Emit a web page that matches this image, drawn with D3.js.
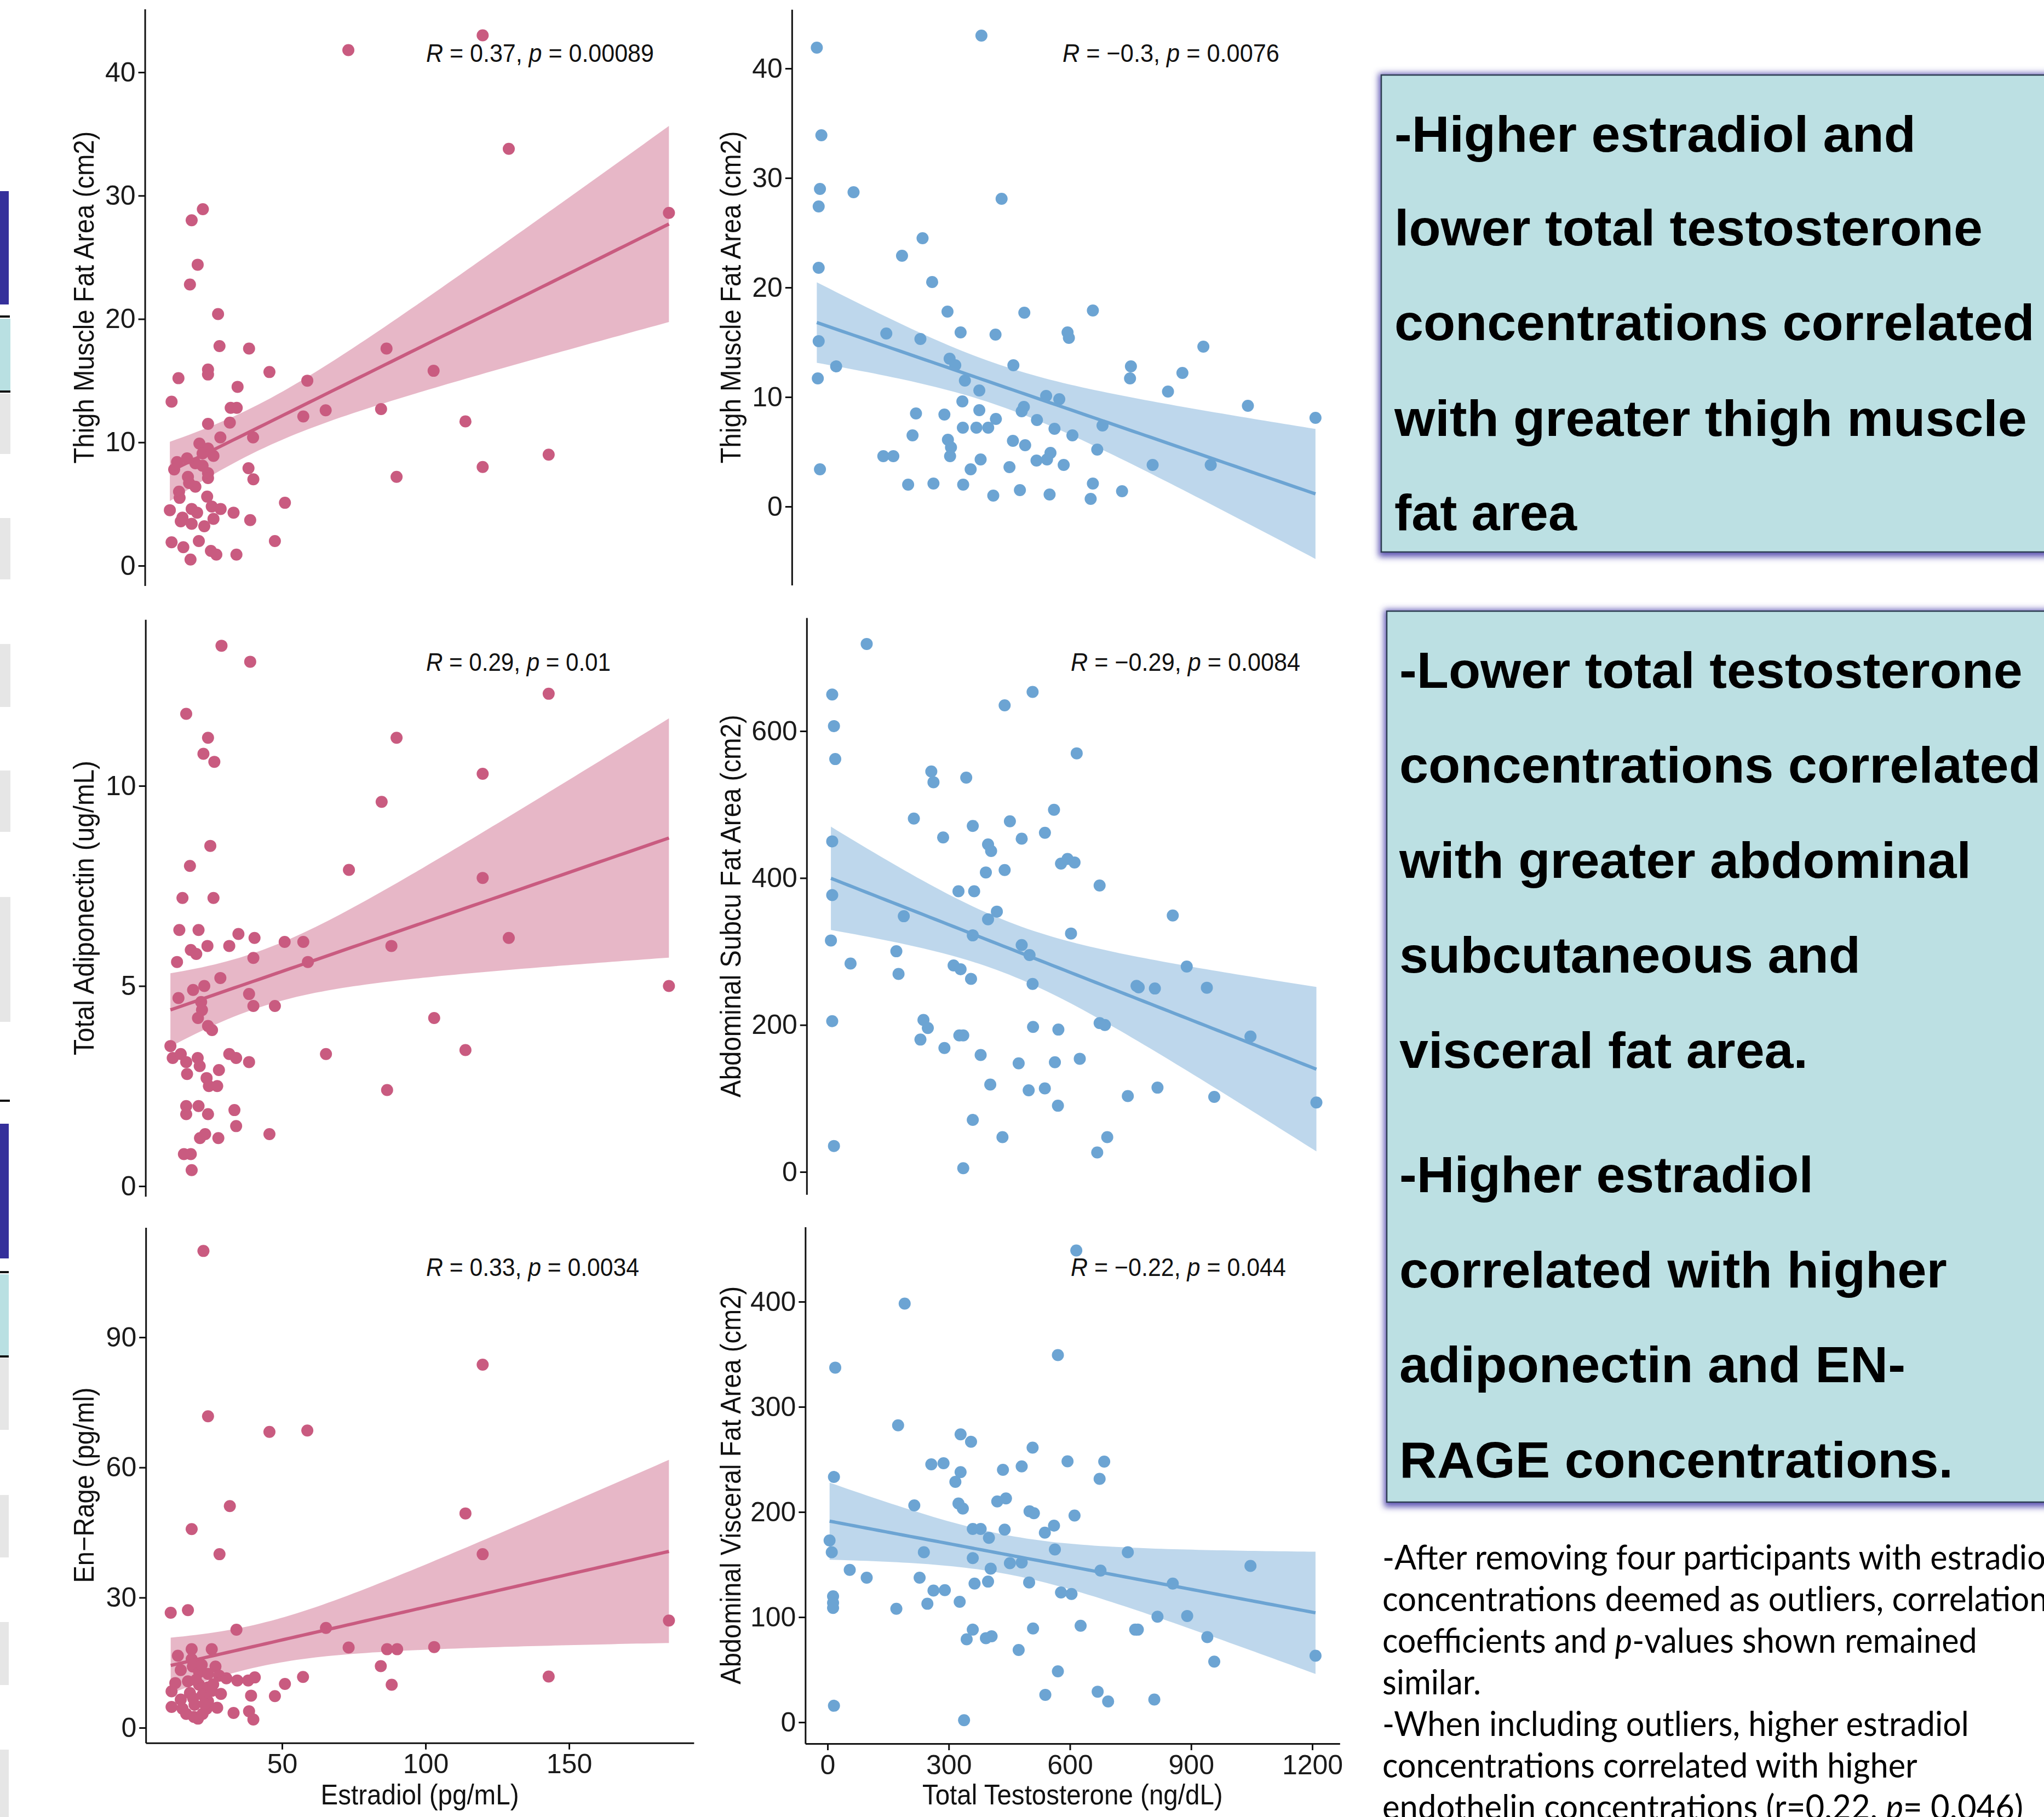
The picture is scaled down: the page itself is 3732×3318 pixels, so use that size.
<!DOCTYPE html>
<html>
<head>
<meta charset="utf-8">
<script src="https://cdn.jsdelivr.net/npm/d3@7"></script>
<style>
  body { margin: 0; background: #fff; }
  svg text { font-family: "Liberation Sans", Arial, sans-serif; }
</style>
</head>
<body>
<svg id="fig" width="3732" height="3318"></svg>
<script>
// ---- data: [x, y] per participant ----
var thighE2 = [[119.9,43.0],[73.1,41.8],[129.0,33.8],[184.8,28.6],[22.4,28.9],[18.5,28.0],[20.6,24.4],[17.9,22.8],[27.7,20.4],[28.2,17.8],[38.5,17.6],[86.4,17.6],[13.9,15.2],[24.2,15.9],[24.2,15.5],[45.6,15.7],[58.8,15.0],[102.8,15.8],[34.5,14.5],[11.5,13.3],[32.1,12.8],[34.2,12.8],[57.4,12.1],[65.2,12.6],[84.5,12.7],[113.9,11.7],[24.2,11.5],[31.8,11.6],[28.5,10.4],[39.9,10.4],[21.2,9.9],[24.2,9.5],[26.1,8.9],[22.3,9.1],[13.4,8.4],[16.9,8.7],[19.8,8.3],[22.3,8.1],[24.2,7.5],[12.4,7.8],[38.3,7.9],[40.0,7.0],[17.2,7.2],[24.2,7.1],[17.6,6.7],[19.8,6.4],[14.1,6.0],[14.3,5.5],[23.9,5.6],[51.0,5.1],[10.9,4.5],[18.5,4.6],[20.4,4.3],[25.5,4.8],[28.6,4.6],[33.1,4.3],[15.3,3.9],[14.7,3.6],[18.5,3.4],[22.9,3.2],[26.1,3.8],[38.9,3.7],[11.5,1.9],[15.6,1.5],[21.0,2.0],[18.1,0.5],[25.2,1.2],[27.1,0.9],[34.1,0.9],[47.5,2.0],[142.9,9.0],[119.9,8.0],[89.9,7.2]];

var thighTT = [[407,43.0],[11,41.9],[22,33.9],[18.6,29.0],[15.5,27.4],[99.4,28.7],[455.5,28.1],[15.5,21.8],[265.4,24.5],[216,22.9],[288.5,20.5],[15.5,15.1],[13.4,11.7],[57.5,12.8],[178.2,15.8],[260.2,15.3],[325.4,17.8],[356.9,15.9],[440.9,15.7],[510.2,17.7],[675.1,17.9],[614.2,15.9],[617.4,15.4],[330.5,13.5],[344.1,12.9],[483.9,12.9],[367.2,11.5],[401.9,10.6],[361.2,9.6],[562.7,10.1],[594.3,9.8],[766.6,12.8],[764.5,11.7],[890.5,12.2],[940.9,14.6],[855.8,10.5],[1048,9.2],[1210.6,8.1],[249.6,8.5],[317.9,8.4],[401.9,8.8],[441.8,8.0],[503.9,8.7],[509.1,9.1],[540.6,7.9],[241.3,6.5],[362.3,7.2],[394.9,7.2],[423.3,7.2],[582.8,7.1],[698.3,7.4],[625.9,6.5],[326.4,6.1],[333.8,5.4],[482.8,6.0],[512.2,5.6],[685.6,5.2],[171,4.6],[195.1,4.6],[331.6,4.6],[405.1,4.3],[539.5,4.2],[573.1,4.9],[564.8,4.3],[381.1,3.4],[474.5,3.6],[604.9,3.8],[818.9,3.8],[958.6,3.8],[18.6,3.4],[230.7,2.0],[291.6,2.1],[363.1,2.0],[675.1,2.1],[435.5,1.0],[499.6,1.5],[571,1.1],[669.8,0.7],[745.3,1.4]];

var adipoE2 = [[28.9,13.5],[38.9,13.1],[142.9,12.3],[16.6,11.8],[24.2,11.2],[89.9,11.2],[22.6,10.8],[26.4,10.6],[119.9,10.3],[84.7,9.6],[25.0,8.5],[17.9,8.0],[73.3,7.9],[119.9,7.7],[15.3,7.2],[26.1,7.2],[14.2,6.4],[20.9,6.4],[34.8,6.3],[40.4,6.2],[18.2,5.9],[20.1,5.8],[24.0,6.0],[31.6,6.0],[50.9,6.1],[57.4,6.1],[88.1,6.0],[129.0,6.2],[40.0,5.7],[59.0,5.6],[13.4,5.6],[28.5,5.2],[19.0,4.9],[22.9,5.0],[13.9,4.7],[21.8,4.6],[38.5,4.8],[40.0,4.5],[47.5,4.5],[184.8,5.0],[22.1,4.4],[20.7,4.2],[24.2,4.0],[25.6,3.9],[103.0,4.2],[65.3,3.3],[113.9,3.4],[11.1,3.5],[11.9,3.2],[14.7,3.3],[16.6,3.1],[20.6,3.2],[21.3,3.0],[31.6,3.3],[34.0,3.2],[38.5,3.1],[16.9,2.8],[23.7,2.7],[28.0,2.9],[24.5,2.5],[27.4,2.5],[86.6,2.4],[16.6,2.0],[20.9,2.0],[16.6,1.8],[24.2,1.8],[33.4,1.9],[34.0,1.5],[45.6,1.3],[21.4,1.2],[23.2,1.3],[27.8,1.2],[15.8,0.8],[18.2,0.8],[18.5,0.4]];

var subcuTT = [[96.9,718.6],[11.5,649.7],[507.6,653.3],[15.8,606.8],[438.4,635.1],[19.0,561.9],[616.8,569.7],[256.8,545.0],[262.2,530.4],[343.3,536.7],[213.6,480.9],[451.4,477.2],[560.6,492.9],[359.5,470.9],[538.1,461.5],[286.1,455.2],[480.6,453.6],[11.5,449.9],[397.3,445.7],[404.9,436.8],[577.9,419.6],[594.1,425.9],[611.4,421.2],[391.9,407.6],[438.4,410.8],[673.5,389.8],[11.5,376.7],[324.1,382.0],[362.9,382.0],[419.1,354.3],[397.3,343.8],[188.7,348.0],[854.6,349.0],[359.5,321.9],[602.7,324.5],[8.3,315.0],[480.6,308.7],[500.0,295.1],[170.3,300.3],[56.9,283.6],[312.0,281.0],[329.3,275.8],[889.2,279.5],[175.7,269.5],[355.2,262.7],[507.6,255.9],[764.9,253.3],[770.3,251.2],[810.3,249.6],[939.0,250.7],[11.5,205.2],[237.4,206.8],[248.2,195.8],[673.5,202.6],[686.5,200.0],[326.2,185.8],[335.9,185.8],[508.7,197.4],[571.4,193.7],[229.9,180.1],[1047,184.3],[289.3,168.6],[379.0,159.2],[473.1,147.7],[562.8,149.3],[624.4,154.0],[402.8,118.9],[497.9,111.0],[537.9,113.6],[743.3,103.2],[816.8,114.7],[957.3,102.1],[570.3,90.1],[1210.2,94.4],[359.5,70.8],[433.0,47.3],[692.4,47.3],[667.6,26.4],[15.8,35.3],[335.9,5.0]];

var enrageE2 = [[22.6,109.9],[119.9,83.7],[24.2,71.8],[45.6,68.2],[58.8,68.5],[31.8,51.1],[113.9,49.4],[18.5,45.8],[28.2,40.0],[119.9,40.0],[11.2,26.5],[17.2,27.1],[34.1,22.6],[65.3,23.0],[184.8,24.7],[73.2,18.5],[86.6,18.1],[90.1,18.1],[103.0,18.6],[84.4,14.2],[88.2,9.9],[142.9,11.8],[57.3,11.7],[51.0,10.1],[47.5,7.3],[13.7,16.6],[18.5,18.1],[25.5,18.1],[18.5,15.8],[26.8,14.1],[18.9,14.1],[14.7,13.3],[21.1,12.8],[24.2,12.4],[28.1,12.0],[30.6,11.4],[34.4,10.9],[38.2,10.9],[40.5,11.6],[12.8,10.3],[17.2,10.7],[21.1,9.9],[24.2,9.3],[11.5,8.4],[17.9,8.0],[22.3,7.6],[28.7,7.8],[39.2,7.4],[14.7,6.5],[24.2,6.1],[11.5,4.8],[15.3,4.4],[19.5,5.3],[23.7,4.4],[27.4,4.6],[16.6,3.2],[20.7,2.1],[33.1,3.4],[38.5,3.8],[40.0,1.9],[19.3,2.5],[22.3,3.2],[20.0,11.0],[22.0,14.5],[25.5,8.5],[19.0,6.8],[26.0,10.0],[23.0,5.5]];

var visceralTT = [[615.8,448.7],[190.9,398.2],[570.2,349.2],[19.0,337.3],[174.6,282.4],[329.3,273.8],[355.2,266.8],[507.6,261.2],[256.8,245.3],[287.1,246.4],[594.1,248.2],[684.9,247.9],[329.3,237.9],[434.2,240.1],[480.6,243.4],[316.4,228.6],[673.5,231.5],[15.8,233.3],[420.1,210.0],[441.7,212.9],[324.1,208.1],[334.9,203.3],[214.7,206.3],[500.0,200.7],[510.8,198.8],[611.4,196.6],[5.0,172.9],[10.4,161.7],[359.5,183.9],[379.0,183.9],[399.5,175.4],[438.4,183.2],[537.9,180.3],[560.6,187.0],[238.4,161.7],[562.8,164.3],[743.3,161.7],[359.5,156.1],[451.4,151.3],[480.6,152.0],[403.9,146.1],[675.7,144.3],[1047,148.7],[54.9,144.9],[96.9,137.5],[227.9,137.5],[363.9,131.9],[397.3,133.8],[499.0,133.0],[854.6,131.9],[262.2,125.3],[290.3,125.7],[577.9,123.4],[603.9,122.0],[13.6,119.8],[13.6,113.5],[13.6,108.7],[247.1,112.7],[327.1,114.6],[170.3,107.9],[816.8,100.4],[890.3,101.1],[626.5,91.8],[359.5,88.1],[508.7,89.2],[761.6,88.1],[768.1,88.1],[344.4,78.9],[392.0,80.0],[406.1,81.8],[940.1,81.0],[473.1,68.8],[1208,63.3],[957.3,57.7],[570.2,48.4],[539.1,26.1],[668.7,29.1],[694.6,19.8],[808.9,21.6],[15.8,15.7],[337.9,2.0]];

var statR = ['0.37', '\u22120.3', '0.29', '\u22120.29', '0.33', '\u22120.22'];
var statP = ['0.00089', '0.0076', '0.01', '0.0084', '0.0034', '0.044'];
var yTitles = ['Thigh Muscle Fat Area (cm2)', 'Thigh Muscle Fat Area (cm2)', 'Total Adiponectin (ug/mL)',
               'Abdominal Subcu Fat Area (cm2)', 'En\u2212Rage (pg/ml)', 'Abdominal Visceral Fat Area (cm2)'];
var yTickVals = [[0,10,20,30,40], [0,10,20,30,40], [0,5,10], [0,200,400,600], [0,30,60,90], [0,100,200,300,400]];
var e2Ticks = [50, 100, 150];
var ttTicks = [0, 300, 600, 900, 1200];
var xTitles = ['Estradiol (pg/mL)', 'Total Testosterone (ng/dL)'];

var box1Lines = ['-Higher estradiol and', 'lower total testosterone', 'concentrations correlated',
                 'with greater thigh muscle', 'fat area'];
var box2Lines = ['-Lower total testosterone', 'concentrations correlated', 'with greater abdominal',
                 'subcutaneous and', 'visceral fat area.', '-Higher estradiol', 'correlated with higher',
                 'adiponectin and EN-', 'RAGE concentrations.'];
var noteLines = [['-After removing four participants with estradiol'],
                 ['concentrations deemed as outliers, correlation'],
                 ['coefficients and ', {i:'p'}, '-values shown remained'],
                 ['similar.'],
                 ['-When including outliers, higher estradiol'],
                 ['concentrations correlated with higher'],
                 ['endothelin concentrations (r=0.22,  ', {i:'p'}, '= 0.046)']];

// ---- layout ----
var pink = '#c95b80', blue = '#6ca4d3';
var panels = [
  {pts: thighE2,    col: pink, xCal: [0,253,50,515],  yCal: [0,1033,40,132],   titleX: 153,  titleW: 607, annX: 778,  annY: 97,   annW: 416},
  {pts: thighTT,    col: blue, xCal: [0,1483,300,1710.7], yCal: [0,925,40,125], titleX: 1334, titleW: 607, annX: 1940, annY: 97,   annW: 396},
  {pts: adipoE2,    col: pink, xCal: [0,253,50,515],  yCal: [0,2166,10,1435],  titleX: 153,  titleW: 538, annX: 778,  annY: 1209, annW: 337},
  {pts: subcuTT,    col: blue, xCal: [0,1511,300,1732.25], yCal: [0,2140,600,1335], titleX: 1334, titleW: 699, annX: 1955, annY: 1209, annW: 419},
  {pts: enrageE2,   col: pink, xCal: [0,253,50,515],  yCal: [0,3155,90,2442],  titleX: 153,  titleW: 357, annX: 778,  annY: 2314, annW: 389, xt: 0, xtW: 362},
  {pts: visceralTT, col: blue, xCal: [0,1511,300,1732.25], yCal: [0,3145,400,2377], titleX: 1334, titleW: 727, annX: 1955, annY: 2314, annW: 393, xt: 1, xtW: 549}
];

var svg = d3.select('#fig');
var defs = svg.append('defs');
defs.append('filter').attr('id', 'glow').attr('x', '-5%').attr('y', '-5%').attr('width', '110%').attr('height', '110%')
  .append('feGaussianBlur').attr('stdDeviation', 6);

// slide fragments at the left edge
var stripBlocks = [[349,556,16,'#35309b'],[576,580,18,'#111'],[582,713,19,'#b9e0e2'],[713,717,19,'#111'],
  [719,829,19,'#e6e6e6'],[946,1058,19,'#e6e6e6'],[1176,1291,19,'#e6e6e6'],[1407,1519,19,'#e6e6e6'],
  [1638,1866,19,'#e6e6e6'],[2008,2012,18,'#111'],[2052,2298,16,'#35309b'],[2321,2325,16,'#111'],
  [2327,2475,16,'#b9e0e2'],[2475,2479,16,'#111'],[2480,2611,16,'#e6e6e6'],[2730,2844,16,'#e6e6e6'],
  [2962,3077,16,'#e6e6e6'],[3195,3318,16,'#e6e6e6']];
svg.selectAll('rect.strip').data(stripBlocks).join('rect').attr('class', 'strip')
  .attr('x', 0).attr('y', d => d[0]).attr('width', d => d[2]).attr('height', d => d[1] - d[0]).attr('fill', d => d[3]);

function lmBand(pts) {
  var n = pts.length;
  var mx = d3.mean(pts, d => d[0]), my = d3.mean(pts, d => d[1]);
  var sxx = d3.sum(pts, d => (d[0] - mx) * (d[0] - mx));
  var sxy = d3.sum(pts, d => (d[0] - mx) * (d[1] - my));
  var b = sxy / sxx, a = my - b * mx;
  var s = Math.sqrt(d3.sum(pts, d => Math.pow(d[1] - a - b * d[0], 2)) / (n - 2));
  var t = 1.99;
  var ex = d3.extent(pts, d => d[0]);
  return d3.range(80).map(function(i) {
    var x = ex[0] + (ex[1] - ex[0]) * i / 79;
    var f = a + b * x, se = s * Math.sqrt(1 / n + (x - mx) * (x - mx) / sxx);
    return {x: x, f: f, lo: f - t * se, hi: f + t * se};
  });
}

function squeeze(sel, w) {
  var len = sel.node().getComputedTextLength();
  return len ? w / len : 1;
}

panels.forEach(function(p, k) {
  var band = lmBand(p.pts);
  var ex = d3.extent(p.pts, d => d[0]);
  var ylo = Math.min(d3.min(p.pts, d => d[1]), d3.min(band, d => d.lo));
  var yhi = Math.max(d3.max(p.pts, d => d[1]), d3.max(band, d => d.hi));
  var xp = (ex[1] - ex[0]) * 0.05, yp = (yhi - ylo) * 0.05;

  var xc = d3.scaleLinear().domain([p.xCal[0], p.xCal[2]]).range([p.xCal[1], p.xCal[3]]);
  var yc = d3.scaleLinear().domain([p.yCal[0], p.yCal[2]]).range([p.yCal[1], p.yCal[3]]);
  var xd = [ex[0] - xp, ex[1] + xp], yd = [ylo - yp, yhi + yp];
  var x = d3.scaleLinear().domain(xd).range(xd.map(xc));
  var y = d3.scaleLinear().domain(yd).range(yd.map(yc));

  var g = svg.append('g');
  g.selectAll('circle').data(p.pts).join('circle')
    .attr('cx', d => x(d[0])).attr('cy', d => y(d[1])).attr('r', 11).attr('fill', p.col);
  g.append('path').datum(band)
    .attr('d', d3.area().x(d => x(d.x)).y0(d => y(d.lo)).y1(d => y(d.hi)))
    .attr('fill', p.col).attr('fill-opacity', 0.44);
  g.append('path').datum(band)
    .attr('d', d3.line().x(d => x(d.x)).y(d => y(d.f)))
    .attr('fill', 'none').attr('stroke', p.col).attr('stroke-width', 6);

  var ya = g.append('g').attr('transform', 'translate(' + x.range()[0] + ',0)')
    .call(d3.axisLeft(y).tickValues(yTickVals[k]).tickSize(12).tickPadding(5).tickSizeOuter(0).tickFormat(d3.format('d')));
  ya.attr('font-size', 50).attr('font-family', '"Liberation Sans", Arial, sans-serif');
  ya.selectAll('path, line').attr('stroke', '#111').attr('stroke-width', 3);
  ya.selectAll('text').attr('fill', '#1a1a1a');

  if (p.xt !== undefined) {
    var xa = g.append('g').attr('transform', 'translate(0,' + y.range()[0] + ')')
      .call(d3.axisBottom(x).tickValues(p.xt === 0 ? e2Ticks : ttTicks).tickSize(12).tickPadding(8).tickSizeOuter(0).tickFormat(d3.format('d')));
    xa.attr('font-size', 50).attr('font-family', '"Liberation Sans", Arial, sans-serif');
    xa.selectAll('path, line').attr('stroke', '#111').attr('stroke-width', 3);
    xa.selectAll('text').attr('fill', '#1a1a1a');

    var cx = (x.range()[0] + x.range()[1]) / 2;
    var xtt = g.append('text').attr('text-anchor', 'middle').attr('dy', '0.35em')
      .attr('font-size', 52).attr('fill', '#111').text(xTitles[p.xt]);
    xtt.attr('transform', 'translate(' + cx + ',3277) scale(' + squeeze(xtt, p.xtW) + ',1)');
  }

  var cy = (y.range()[0] + y.range()[1]) / 2;
  var yt = g.append('text').attr('text-anchor', 'middle').attr('dy', '0.35em')
    .attr('font-size', 52).attr('fill', '#111').text(yTitles[k]);
  yt.attr('transform', 'translate(' + p.titleX + ',' + cy + ') rotate(-90) scale(' + squeeze(yt, p.titleW) + ',1)');

  var an = g.append('text').attr('dy', '0.35em').attr('font-size', 46).attr('fill', '#111');
  an.append('tspan').attr('font-style', 'italic').text('R');
  an.append('tspan').text(' = ' + statR[k] + ', ');
  an.append('tspan').attr('font-style', 'italic').text('p');
  an.append('tspan').text(' = ' + statP[k]);
  an.attr('transform', 'translate(' + p.annX + ',' + p.annY + ') scale(' + squeeze(an, p.annW) + ',1)');
});

// ---- text boxes ----
function textBox(x, y, w, h) {
  svg.append('rect').attr('x', x - 5).attr('y', y - 3).attr('width', w).attr('height', h + 12)
    .attr('fill', '#4f47ad').attr('fill-opacity', 0.9).attr('filter', 'url(#glow)');
  svg.append('rect').attr('x', x).attr('y', y).attr('width', w).attr('height', h)
    .attr('fill', '#bce0e3').attr('stroke', '#2d3e52').attr('stroke-width', 2.5);
}
textBox(2522, 137, 1300, 871);
textBox(2532, 1116, 1300, 1627);

var box1Base = [277, 448, 621, 796, 968], box1W = [952, 1074, 1169, 1155, 333];
var box2Base = [1256, 1429, 1603, 1776, 1950, 2177, 2351, 2524, 2698],
    box2W = [1138, 1171, 1044, 842, 746, 756, 1000, 924, 1011];

function boldLines(lines, x, base, widths) {
  lines.forEach(function(s, i) {
    var t = svg.append('text').attr('font-size', 93).attr('font-weight', 'bold').attr('fill', '#000').text(s);
    t.attr('transform', 'translate(' + x + ',' + base[i] + ') scale(' + squeeze(t, widths[i]) + ',1)');
  });
}
boldLines(box1Lines, 2546, box1Base, box1W);
boldLines(box2Lines, 2555, box2Base, box2W);

var noteBase = [2866, 2942, 3018, 3094, 3170, 3246, 3322],
    noteW = [1225, 1215, 1086, 180, 1071, 977, 1170];
noteLines.forEach(function(parts, i) {
  var t = svg.append('text').attr('font-size', 62).attr('fill', '#000')
    .style('font-family', 'Lato, "Open Sans", sans-serif');
  parts.forEach(function(s) {
    if (typeof s === 'string') t.append('tspan').text(s);
    else t.append('tspan').attr('font-style', 'italic').text(s.i);
  });
  t.attr('transform', 'translate(2524,' + noteBase[i] + ') scale(' + squeeze(t, noteW[i]) + ',1)');
});
</script>
</body>
</html>
